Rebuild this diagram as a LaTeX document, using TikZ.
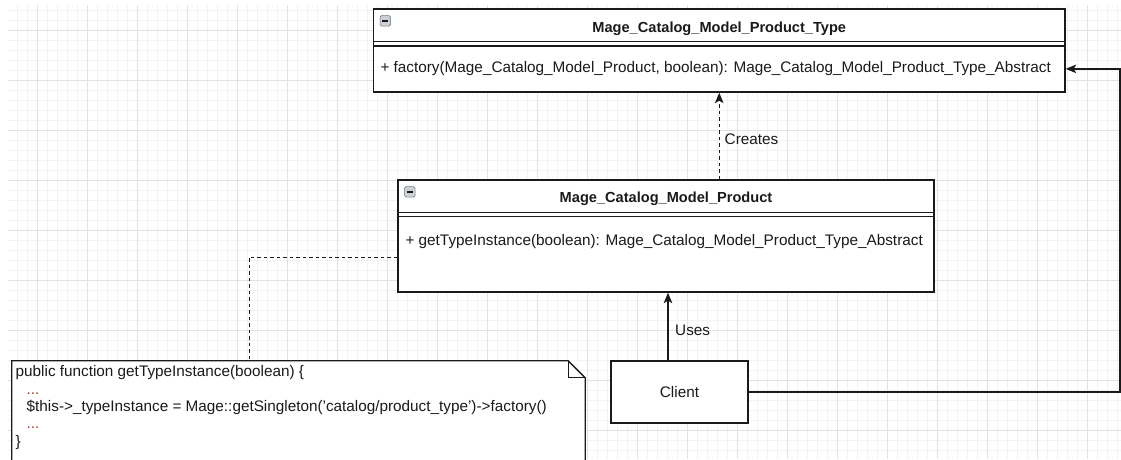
\documentclass[tikz,border=0pt]{standalone}
\usepackage{fontspec}
\setmainfont{Liberation Sans}
\usetikzlibrary{arrows.meta,calc}
\definecolor{gridminor}{HTML}{F2F2F2}
\definecolor{gridmajor}{HTML}{E2E2E2}
\definecolor{ink}{HTML}{1A1A1A}
\definecolor{dots}{HTML}{A8402F}
\definecolor{iconfill}{HTML}{CDD1D6}
\definecolor{iconline}{HTML}{6F7680}

\begin{document}
\begin{tikzpicture}[x=1pt,y=-1pt,
  box/.style={draw=ink, line width=1.3pt, fill=white, inner sep=0pt},
  lbl/.style={font=\fontsize{15.3}{17.4}\selectfont, text=ink, inner sep=0pt},
  titletext/.style={font=\fontsize{14.6}{17}\selectfont\bfseries, text=ink, inner sep=0pt},
  conn/.style={draw=ink, line width=1.3pt},
  tip/.style={-{Stealth[length=10.5pt,width=8.5pt,inset=2.5pt]}},
  dashline/.style={line width=1pt, dash pattern=on 3.5pt off 3pt},
  minusicon/.style={draw=iconline, fill=iconfill, line width=0.7pt, rounded corners=1.5pt,
    minimum size=10.5pt, inner sep=0pt,
    path picture={\draw[ink, line width=1.5pt]
      ($(path picture bounding box.west)+(2.2pt,0)$) -- ($(path picture bounding box.east)+(-2.2pt,0)$);}},
]
\useasboundingbox (0,0) rectangle (1121,459);
\fill[white] (0,0) rectangle (1121,459);

% background grid
\begin{scope}
  \clip (8,5) rectangle (1121,459);
  \foreach \x in {17,27,...,1117} \draw[gridminor, line width=0.8pt] (\x,5) -- (\x,459);
  \foreach \y in {10,20,...,450} \draw[gridminor, line width=0.8pt] (8,\y) -- (1121,\y);
  \foreach \x in {37,87,...,1087} \draw[gridmajor, line width=0.8pt] (\x,5) -- (\x,459);
  \foreach \y in {30,80,...,430} \draw[gridmajor, line width=0.8pt] (8,\y) -- (1121,\y);
\end{scope}

% class Mage_Catalog_Model_Product_Type
\node[box, minimum width=691.5pt, minimum height=83pt] (top) at (719.25,50.5) {};
\draw[conn] ($(top.north west)+(0,33)$) -- ($(top.north east)+(0,33)$);
\draw[conn] ($(top.north west)+(0,37.5)$) -- ($(top.north east)+(0,37.5)$);
\node[minusicon] (topicon) at ($(top.north west)+(12.5,12.5)$) {};
\node[titletext] (toptitle) at ($(top.north)+(0,20)$) {Mage\_Catalog\_Model\_Product\_Type};
\node[lbl, anchor=west] (topm) at ($(top.north west)+(7.5,60.5)$)
  {+ factory(Mage\_Catalog\_Model\_Product, boolean): Mage\_Catalog\_Model\_Product\_Type\_Abstract};

% class Mage_Catalog_Model_Product
\node[box, minimum width=536pt, minimum height=112pt] (mid) at (666,236) {};
\draw[conn] ($(mid.north west)+(0,33)$) -- ($(mid.north east)+(0,33)$);
\draw[conn] ($(mid.north west)+(0,37)$) -- ($(mid.north east)+(0,37)$);
\node[minusicon] (midicon) at ($(mid.north west)+(12.5,12.5)$) {};
\node[titletext] (midtitle) at ($(mid.north)+(0,19.5)$) {Mage\_Catalog\_Model\_Product};
\node[lbl, anchor=west] (midm) at ($(mid.north west)+(8,62)$)
  {+ getTypeInstance(boolean): Mage\_Catalog\_Model\_Product\_Type\_Abstract};

% client
\node[box, minimum width=137pt, minimum height=62pt, lbl] (client) at (679.5,392) {Client};

% code note with folded corner
\node[minimum width=573pt, minimum height=112pt, inner sep=0pt] (note) at (298.5,417) {};
\filldraw[fill=white, draw=ink, line width=1.3pt]
  (note.south west) -- (note.north west) -- ([xshift=-17pt]note.north east)
  -- ([yshift=-17pt]note.north east) -- (note.south east);
\draw[conn] ([xshift=-17pt]note.north east) -- ([xshift=-17pt,yshift=-17pt]note.north east)
  -- ([yshift=-17pt]note.north east);
\node[lbl, anchor=north west, align=left] (code) at (15.5,365.5)
  {public function getTypeInstance(boolean) \{\\
   \hspace*{11pt}\textcolor{dots}{...}\\
   \hspace*{11pt}\$this->\_typeInstance = Mage::getSingleton('catalog/product\_type')->factory()\\
   \hspace*{11pt}\textcolor{dots}{...}\\
   \}};

% connectors
\coordinate (rt) at (1120,0);
\coordinate (nk) at (249,0);
\draw[conn, tip] (client.east) -- (client.east -| rt) -- (rt |- topm) -- (top.east |- topm);
\draw[conn, dashline, tip] (mid.north -| top.south) -- (top.south);
\draw[conn, tip] ([xshift=-11.5pt]client.north) -- ([xshift=-11.5pt]client.north |- mid.south);
\draw[conn, dashline] ([yshift=-21pt]mid.west) -| (nk |- note.north);

% connector labels
\node[lbl, anchor=west] (creates) at (724.5,139) {Creates};
\node[lbl, anchor=west] (uses) at (675,330) {Uses};
\end{tikzpicture}
\end{document}
